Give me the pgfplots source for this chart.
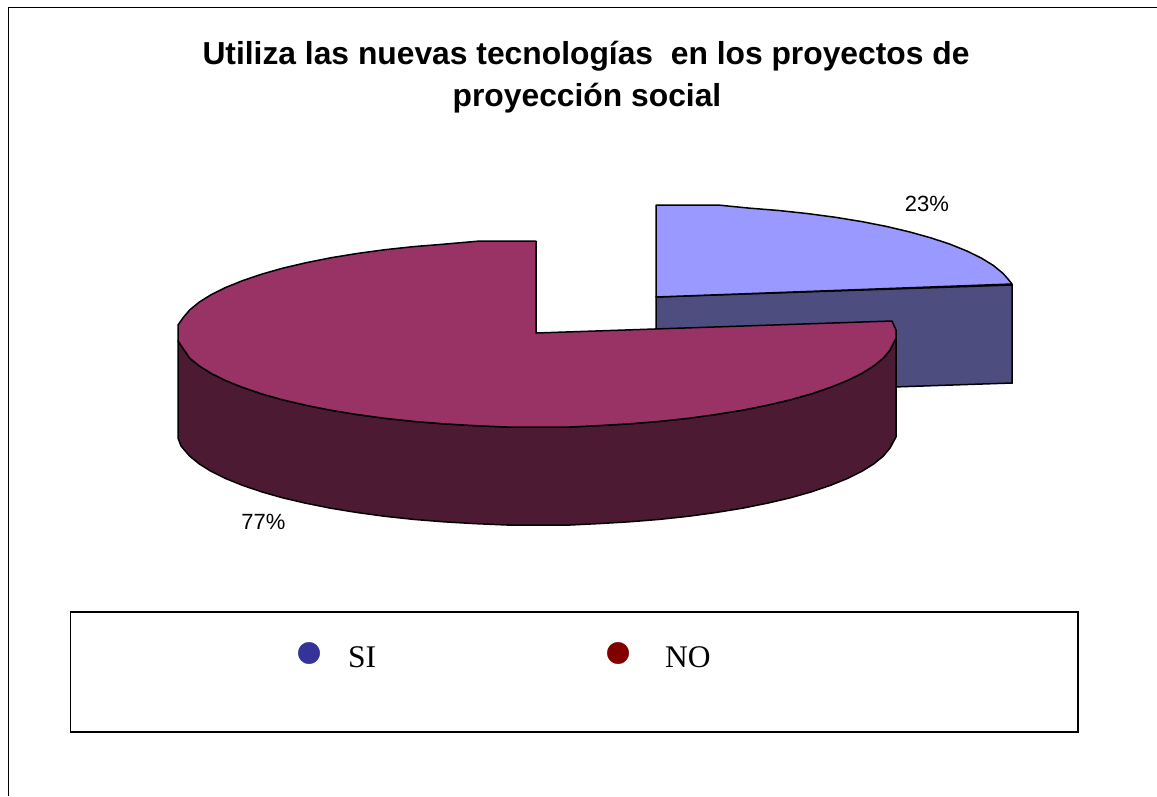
\documentclass[border=0pt]{standalone}
\usepackage{pgfplots}
\pgfplotsset{compat=1.18}
\usepackage{fontspec}
\setmainfont{Liberation Sans}
\newfontfamily\serifleg{Liberation Serif}
\definecolor{mtop}{HTML}{993366}
\definecolor{mside}{HTML}{4D1A33}
\definecolor{btop}{HTML}{9999FF}
\definecolor{bside}{HTML}{4D4D80}
\definecolor{bmark}{HTML}{333399}
\definecolor{rmark}{HTML}{800000}
\begin{document}
\begin{tikzpicture}
\begin{axis}[
  scale only axis, width=1157pt, height=796pt,
  xmin=0, xmax=1157, ymin=0, ymax=796, y dir=reverse,
  hide axis, clip=true,
]
% page background and outer frame
\addplot[draw=none, fill=white] coordinates {(0,0) (1157,0) (1157,796) (0,796)} -- cycle;
\addplot[black, line width=1.5pt] coordinates {(8.5,796) (8.5,7.5) (1157,7.5)};
% 23% slice: side, then top
\addplot[draw=black, line width=1.5pt, fill=bside] coordinates {
 (656,297) (1012,285) (1012,383) (656,395)} -- cycle;
\addplot[draw=black, line width=1.5pt, line join=round, fill=btop] coordinates {
 (656,205) (718,205) (748.9,208.1) (778.8,210.5) (807.7,213.6) (835.5,217.3) (861.9,221.6)
 (886.8,226.5) (909.9,232) (931,237.9) (950.1,244.2) (966.9,251) (981.4,258.1) (993.4,265.5)
 (1002.8,273.2) (1008,279) (1012,284) (656,297)} -- cycle;
% 77% slice: side, then top
\addplot[draw=black, line width=1.5pt, line join=round, fill=mside] coordinates {
 (178,341) (178,438) (181,446) (189.7,456.1) (199.1,463.8) (211.1,471.3) (225.6,478.5)
 (242.4,485.3) (261.5,491.8) (282.6,497.8) (305.7,503.2) (330.6,508.2) (357,512.5)
 (384.8,516.3) (413.7,519.4) (443.6,521.8) (474.2,523.6) (507,525) (570,525) (598.8,523.6) (629.4,521.8)
 (659.3,519.4) (688.2,516.3) (716,512.5) (742.4,508.2) (767.3,503.2) (790.4,497.8)
 (811.5,491.8) (830.6,485.3) (847.4,478.5) (861.9,471.3) (873.9,463.8) (883.3,456.1)
 (890,448) (896,437) (896,338)
 (890,350.1) (883.3,358.1) (873.9,365.8) (861.9,373.3) (847.4,380.5) (830.6,387.3)
 (811.5,393.8) (790.4,399.8) (767.3,405.2) (742.4,410.2) (716,414.5) (688.2,418.3)
 (659.3,421.4) (629.4,423.8) (598.8,425.6) (570,427) (507,427) (474.2,425.6) (443.6,423.8)
 (413.7,421.4) (384.8,418.3) (357,414.5) (330.6,410.2) (305.7,405.2) (282.6,399.8)
 (261.5,393.8) (242.4,387.3) (225.6,380.5) (211.1,373.3) (199.1,365.8) (189.7,358.1)} -- cycle;
\addplot[draw=black, line width=1.5pt, line join=round, fill=mtop] coordinates {
 (536,241) (480,241) (443.6,244.2) (413.7,246.6) (384.8,249.7) (357,253.5) (330.6,257.8)
 (305.7,262.8) (282.6,268.2) (261.5,274.2) (242.4,280.7) (225.6,287.5) (211.1,294.7)
 (199.1,302.2) (189.7,309.9) (183,317.9) (178,325) (178,341) (189.7,358.1) (199.1,365.8)
 (211.1,373.3) (225.6,380.5) (242.4,387.3) (261.5,393.8) (282.6,399.8) (305.7,405.2)
 (330.6,410.2) (357,414.5) (384.8,418.3) (413.7,421.4) (443.6,423.8) (474.2,425.6) (507,427)
 (570,427) (598.8,425.6) (629.4,423.8) (659.3,421.4) (688.2,418.3) (716,414.5) (742.4,410.2)
 (767.3,405.2) (790.4,399.8) (811.5,393.8) (830.6,387.3) (847.4,380.5) (861.9,373.3)
 (873.9,365.8) (883.3,358.1) (890,350.1) (896,338) (896,330) (892,321) (536,333)} -- cycle;
% legend box
\addplot[draw=black, line width=1.5pt, fill=white] coordinates {
 (70.5,612) (1078,612) (1078,732) (70.5,732)} -- cycle;
\addplot[bmark, only marks, mark=*, mark size=10.8pt, mark options={draw=bmark, fill=bmark}] coordinates {(309,653)};
\addplot[rmark, only marks, mark=*, mark size=10.8pt, mark options={draw=rmark, fill=rmark}] coordinates {(618,653)};
% text
\node[anchor=base, inner sep=0pt, font=\fontsize{31.8}{42}\selectfont\bfseries] at (axis cs:586,64.5)
  {Utiliza las nuevas tecnologías\ \ en los proyectos de};
\node[anchor=base, inner sep=0pt, font=\fontsize{31.8}{42}\selectfont\bfseries] at (axis cs:587,106.5)
  {proyección social};
\node[font=\fontsize{22}{26}\selectfont] at (axis cs:927,204) {23\%};
\node[font=\fontsize{22}{26}\selectfont] at (axis cs:263.5,522) {77\%};
\node[anchor=base west, inner sep=0pt, font=\serifleg\fontsize{31.5}{36}\selectfont] at (axis cs:348,667) {SI};
\node[anchor=base west, inner sep=0pt, font=\serifleg\fontsize{31.5}{36}\selectfont] at (axis cs:665,667) {NO};
\end{axis}
\end{tikzpicture}
\end{document}
